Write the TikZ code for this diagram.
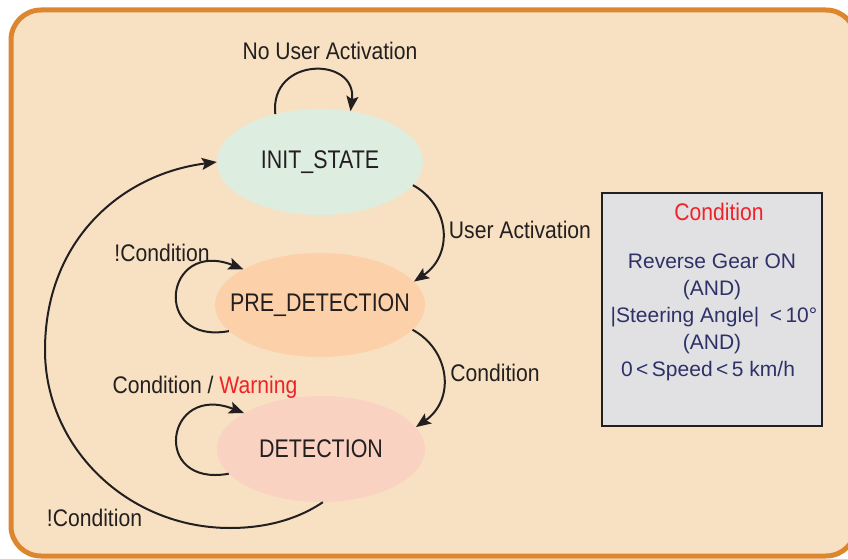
\documentclass[tikz,border=0pt]{standalone}
\usepackage{fontspec}
\setmainfont{Liberation Sans}
\newfontfamily\narrowfont[FakeStretch=0.88]{Liberation Sans}
\newfontfamily\statefont[FakeStretch=0.84]{Liberation Sans}
\usetikzlibrary{shapes.geometric,arrows.meta}
\definecolor{bgc}{HTML}{F7E1C2}
\definecolor{bordc}{HTML}{DD8630}
\definecolor{initc}{HTML}{DDEDE0}
\definecolor{prec}{HTML}{FCD0A8}
\definecolor{detc}{HTML}{FAD2C1}
\definecolor{boxc}{HTML}{E1E1E3}
\definecolor{txtc}{HTML}{231F20}
\definecolor{redc}{HTML}{EE2229}
\definecolor{navyc}{HTML}{2E3167}
\begin{document}
\begin{tikzpicture}[x=1pt,y=-1pt,
  statebox/.style={ellipse, inner sep=0pt, minimum width=206pt, minimum height=106pt,
    font=\statefont\fontsize{25.5}{30}\selectfont, text=txtc},
  lab/.style={inner sep=0pt, anchor=base, font=\narrowfont\fontsize{24}{28}\selectfont, text=txtc},
  boxtxt/.style={inner sep=0pt, anchor=base, font=\fontsize{21}{27}\selectfont, text=navyc},
  edge/.style={line width=2pt, draw=txtc, -{Stealth[length=15pt,width=12pt,inset=3pt]}}]
\useasboundingbox (0,0) rectangle (848,559);
\draw[line width=5pt, draw=bordc, fill=bgc, rounded corners=30pt] (11,10) rectangle (856,556);

\node[statebox, fill=initc] (init) at (320,162) {\makebox[0pt]{INIT\_STATE}};
\node[statebox, fill=prec, minimum width=210pt, minimum height=104pt] (pre) at (320,305) {\makebox[0pt]{PRE\_DETECTION}};
\node[statebox, fill=detc, minimum width=208pt, minimum height=106pt] (det) at (321,449) {\makebox[0pt]{DETECTION}};

% condition box
\node[draw=txtc, line width=2pt, fill=boxc, minimum width=220pt, minimum height=233pt, inner sep=0pt] (cbox) at (712,309.5) {};
\node[lab, text=redc] (ctitle) at (719,220) {Condition};
\node[boxtxt] (c1) at (712,268) {Reverse Gear ON};
\node[boxtxt] (c2) at (712,295) {(AND)};
\node[boxtxt] (c3) at (714,322) {|Steering Angle|\enspace<\,10°};
\node[boxtxt] (c4) at (712,349) {(AND)};
\node[boxtxt] (c5) at (708,376) {0\,<\,Speed\,<\,5 km/h};

% labels
\node[lab] (l1) at (330,60) {No User Activation};
\node[lab] (l2) at (520,238) {User Activation};
\node[lab] (l3) at (162,261) {!Condition};
\node[lab] (l4) at (495,381) {Condition};
\node[lab] (l5) at (205,393) {Condition / \textcolor{redc}{Warning}};
\node[lab] (l6) at (94.5,526) {!Condition};

% connectors
\draw[edge] (init.133) .. controls +(-6,-58) and +(7,-55) .. (init.59);
\draw[edge] (init.-14) .. controls +(37,20) and +(40,-27) .. (pre.14);
\draw[edge] (pre.-15) .. controls +(37,20) and +(40,-28) .. (det.13);
\draw[edge] (pre.196) .. controls +(-78,14) and +(-79,-31) .. (pre.155);
\draw[edge] (det.195) .. controls +(-78,14) and +(-79,-31) .. (det.155);
\coordinate (b1) at (230,528);
\coordinate (b2) at (45,350);
\draw[edge] (det.272) .. controls +(-22,15) and +(40,0) .. (b1)
  .. controls +(-102,0) and +(0,98) .. (b2)
  .. controls +(0,-110) and +(-95,12) .. (init.180);
\end{tikzpicture}
\end{document}
